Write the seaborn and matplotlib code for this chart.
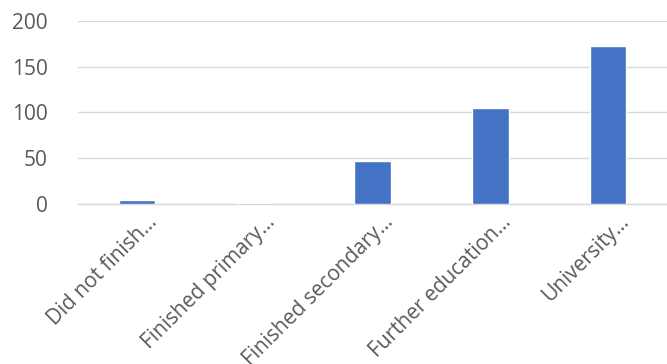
import matplotlib
matplotlib.use("Agg")
import matplotlib.pyplot as plt
import matplotlib.transforms as mtransforms
import seaborn as sns
import pandas as pd

categories = ["Did not finish…", "Finished primary…", "Finished secondary…",
              "Further education…", "University…"]
values = [4, 1, 47, 105, 173]
yticks = [0, 50, 100, 150, 200]

sns.set_theme(style="white")
plt.rcParams['font.family'] = ['Open Sans', 'DejaVu Sans']

df = pd.DataFrame({"cat": categories, "val": values})

fig, ax = plt.subplots(figsize=(6.67, 3.64), dpi=100)
fig.subplots_adjust(left=0.117, right=1.0, top=0.942, bottom=0.44)

sns.barplot(data=df, x="cat", y="val", color="#4472C4", saturation=1,
            width=0.31, ax=ax, zorder=3)

ax.set_ylim(0, 200)
ax.set_yticks(yticks)
ax.set_yticklabels([str(t) for t in yticks])
ax.set_xlim(-0.5, len(categories) - 0.5)
ax.set_xlabel("")
ax.set_ylabel("")
ax.yaxis.grid(True, color="#D9D9D9", linewidth=1.0, zorder=0)
ax.set_axisbelow(True)
for s in ["top", "right", "left"]:
    ax.spines[s].set_visible(False)
ax.spines["bottom"].set_color("#D9D9D9")
ax.spines["bottom"].set_linewidth(1.0)
ax.tick_params(axis="both", length=0, labelsize=15, colors="#595959", pad=6)
ax.tick_params(axis="y", pad=22)
ax.tick_params(axis="x", pad=5.5)

offset = mtransforms.ScaledTranslation(10 / 100, 0, fig.dpi_scale_trans)
for lab in ax.get_xticklabels():
    lab.set_rotation(45)
    lab.set_ha("right")
    lab.set_rotation_mode("anchor")
    lab.set_transform(lab.get_transform() + offset)

fig.savefig("out.png", dpi=100)
